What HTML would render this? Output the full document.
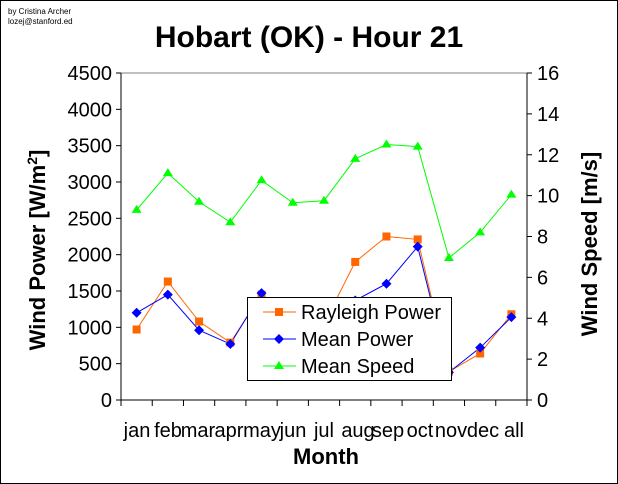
<!DOCTYPE html>
<html><head><style>body{margin:0;background:#fff}svg{display:block}</style></head><body>
<svg width="618" height="484" xmlns="http://www.w3.org/2000/svg" font-family="Liberation Sans, Arial, sans-serif">
<rect x="0.5" y="0.5" width="617" height="483" fill="#fff" stroke="#000"/>
<text x="8" y="14" font-size="8">by Cristina Archer</text>
<text x="8" y="24" font-size="8">lozej@stanford.ed</text>
<text x="309" y="47" font-size="30" font-weight="bold" text-anchor="middle">Hobart (OK) - Hour 21</text>
<line x1="121" y1="73" x2="527" y2="73" stroke="#808080"/>
<g stroke="#000" stroke-width="1">
<line x1="121" y1="73" x2="121" y2="400"/>
<line x1="527" y1="73" x2="527" y2="400"/>
<line x1="121" y1="400" x2="527" y2="400"/>
</g>
<g id="ticks" stroke="#000"></g>
<g id="labels" font-size="20"></g>
<text x="0" y="0" font-size="22" font-weight="bold" text-anchor="middle" transform="translate(45,250) rotate(-90)">Wind Power [W/m<tspan font-size="14" dy="-8">2</tspan><tspan dy="8">]</tspan></text>
<text x="0" y="0" font-size="22" font-weight="bold" text-anchor="middle" transform="translate(597,244) rotate(-90)">Wind Speed [m/s]</text>
<text x="326" y="464" font-size="22" font-weight="bold" text-anchor="middle">Month</text>
<g id="series"></g>
<rect x="247.5" y="297.5" width="204" height="83" fill="#fff" stroke="#000"/>
<line x1="263" y1="312" x2="296" y2="312" stroke="#ff6600"/><rect x="275" y="308" width="8" height="8" fill="#ff6600"/>
<text x="301" y="319" font-size="20">Rayleigh Power</text>
<line x1="263" y1="339" x2="296" y2="339" stroke="#0000ff"/><path d="M279,334 L284,339 L279,344 L274,339Z" fill="#0000ff"/>
<text x="301" y="346" font-size="20">Mean Power</text>
<line x1="263" y1="366" x2="296" y2="366" stroke="#00ff00"/><path d="M279,361 L284,369 L274,369Z" fill="#00ff00"/>
<text x="301" y="373" font-size="20">Mean Speed</text>
</svg>
<script>
(function(){
var ns="http://www.w3.org/2000/svg";
function el(p,t,a,txt){var e=document.createElementNS(ns,t);for(var k in a)e.setAttribute(k,a[k]);if(txt)e.textContent=txt;p.appendChild(e);return e;}
var T=document.getElementById('ticks'),L=document.getElementById('labels'),S=document.getElementById('series');
var y0=400,yt=73,h=y0-yt;
for(var i=0;i<=9;i++){var y=y0-h*i/9;el(T,'line',{x1:116,y1:y,x2:121,y2:y});el(L,'text',{x:112,y:y+7,'text-anchor':'end'},String(i*500));}
for(var i=0;i<=8;i++){var y=y0-h*i/8;el(T,'line',{x1:527,y1:y,x2:532,y2:y});el(L,'text',{x:537,y:y+7},String(i*2));}
var w=406/13;
for(var i=0;i<=13;i++){var x=121+w*i;el(T,'line',{x1:x,y1:400,x2:x,y2:406});}
var m=['jan','feb','mar','apr','may','jun','jul','aug','sep','oct','nov','dec','all'];
var mx=[137,168,198,229,262,293,324,358,388,420,451,483,514];
m.forEach(function(s,i){el(L,'text',{x:mx[i],y:437,'text-anchor':'middle'},s);});
function X(i){return 121+w*(i+0.5);}
var ray=[970,1630,1080,790,1450,1000,1050,1900,2250,2210,390,640,1180];
var mp=[1200,1450,960,770,1470,1000,1050,1370,1600,2110,380,720,1140];
var sp=[9.3,11.1,9.7,8.7,10.75,9.65,9.75,11.8,12.5,12.4,6.95,8.2,10.05];
function py(v){return y0-h*v/4500;} function sy(v){return y0-h*v/16;}
function line(d,f,c){el(S,'polyline',{points:d.map(function(v,i){return X(i)+','+f(v)}).join(' '),fill:'none',stroke:c});}
line(sp,sy,'#00ff00');line(ray,py,'#ff6600');line(mp,py,'#0000ff');
sp.forEach(function(v,i){var x=X(i),y=sy(v);el(S,'path',{d:'M'+x+','+(y-5)+' L'+(x+5)+','+(y+3)+' L'+(x-5)+','+(y+3)+'Z',fill:'#00ff00'});});
ray.forEach(function(v,i){var x=X(i),y=py(v);el(S,'rect',{x:x-4,y:y-4,width:8,height:8,fill:'#ff6600'});});
mp.forEach(function(v,i){var x=X(i),y=py(v);el(S,'path',{d:'M'+x+','+(y-5)+' L'+(x+5)+','+y+' L'+x+','+(y+5)+' L'+(x-5)+','+y+'Z',fill:'#0000ff'});});
})();
</script>
</body></html>
